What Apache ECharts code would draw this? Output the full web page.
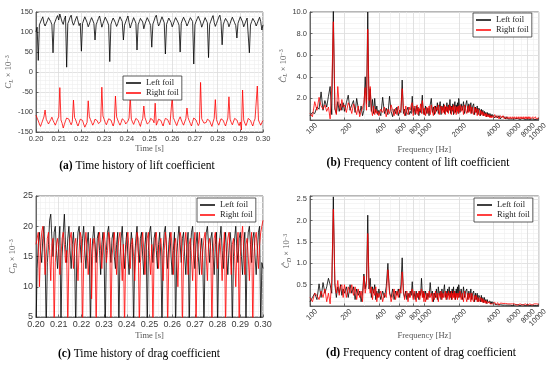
<!DOCTYPE html>
<html><head><meta charset="utf-8">
<script src="https://cdn.jsdelivr.net/npm/echarts@6/dist/echarts.min.js"></script>
<style>html,body{margin:0;padding:0;background:#fff}#c{width:550px;height:368px}</style>
</head><body><div id="c"></div><script>
// ---- time histories: samples every DT seconds starting at T0 ----
const T0 = 0.2, DT = 0.0005;
const liftLeft = [
100,112,29,118,125,132,138,122,115,120,128,136,140,126,118,48,120,127,135,141,
130,145,148,125,119,132,140,12,121,128,137,142,125,117,124,133,139,128,116,122,
52,121,130,138,143,124,113,120,129,136,141,122,80,118,126,134,140,127,112,121,
129,137,141,125,117,26,119,128,135,140,123,114,121,130,138,142,126,80,117,125,
133,140,124,110,119,127,136,141,122,55,118,126,134,139,125,108,120,128,136,141,
124,116,62,120,128,137,142,126,115,121,130,138,140,123,45,119,127,135,139,124,
113,120,129,136,141,125,117,50,122,130,137,140,124,115,121,129,136,141,126,20,
118,126,133,139,143,125,112,120,128,136,140,123,36,119,127,135,141,124,114,121,
129,137,142,126,68,118,127,134,139,124,113,121,130,137,141,123,116,85,122,130,
138,141,125,113,120,128,135,140,48,118,126,134,139,124,115,122,130,137,126,105,
118];
const liftRight = [
-108,-115,-122,-130,-136,-128,-120,-112,-95,-118,-124,-130,-125,-119,-113,-121,-127,-133,-126,-118,
-112,-39,-120,-128,-140,-131,-122,-115,-110,-118,-126,-132,-124,-70,-114,-120,-129,-135,-127,-118,
-113,-121,-130,-138,-142,-126,-72,-112,-119,-126,-133,-127,-118,-114,-122,-129,-134,-124,-38,-110,
-118,-126,-132,-128,-117,-113,-120,-128,-135,-125,-60,-112,-120,-127,-133,-126,-117,-115,-122,-130,
-134,-123,-115,-62,-118,-125,-131,-127,-116,-113,-121,-129,-136,-124,-117,-85,-114,-122,-130,-135,
-125,-116,-112,-120,-127,-78,-133,-126,-118,-114,-121,-129,-135,-124,-116,-112,-119,-126,-132,-127,
-62,-114,-121,-128,-134,-125,-118,-112,-120,-127,-133,-128,-117,-90,-114,-122,-129,-135,-124,-115,
-113,-120,-127,-134,-128,-26,-117,-121,-128,-133,-126,-118,-114,-122,-130,-136,-125,-116,-69,-119,
-127,-133,-128,-117,-113,-121,-129,-135,-125,-115,-62,-118,-126,-132,-127,-116,-112,-120,-128,-134,
-125,-145,-45,-120,-128,-134,-126,-116,-113,-121,-129,-135,-124,-117,-114,-35,-120,-127,-133,-126,
-121];
const dragLeft = [
3,13,17,19,16,14,18,20,15,3,14,17,21,22,18,15,19,20,16,13,
17,20,3,15,19,22,17,14,18,20,16,13,17,19,15,3,16,19,20,17,
14,18,20,16,13,17,19,15,3,15,18,20,17,14,18,19,16,12,17,19,
15,3,16,19,20,17,14,18,19,15,13,17,19,3,15,18,20,16,13,17,
19,15,12,16,19,17,3,15,18,20,16,14,18,19,15,12,17,19,3,16,
19,20,17,14,18,19,16,13,17,19,15,3,16,19,20,16,13,17,19,15,
12,16,19,3,15,18,20,17,14,18,19,15,12,17,19,3,16,19,20,16,
13,17,19,15,12,16,18,14,3,16,19,20,17,14,18,19,15,12,17,19,
3,15,18,20,16,13,17,19,15,12,16,19,17,3,15,18,20,16,14,18,
19,15,12,17,19,3,16,19,20,17,14,18,19,15,12,16,19,20,3,14,
13];
const dragRight = [
17,18,19,10,16,19,20,17,12,15,18,19,16,11,17,18,3,14,17,18,
16,12,15,18,19,17,14,16,3,15,18,19,16,13,17,18,15,11,16,19,
18,3,14,17,19,16,12,15,18,8,16,18,17,3,15,18,19,16,13,17,
19,17,14,16,19,18,3,15,17,19,16,12,16,18,19,15,11,17,3,15,
18,19,16,13,17,18,15,11,16,19,18,3,14,17,19,16,12,16,18,19,
15,12,17,3,15,18,19,16,13,17,18,15,11,16,19,17,3,14,18,19,
16,12,17,18,15,10,16,19,18,3,15,17,19,16,12,17,18,15,11,16,
19,3,14,17,19,16,12,16,18,19,15,11,17,18,16,3,15,18,19,16,
13,17,18,15,11,16,19,3,15,18,19,16,12,17,18,15,10,16,19,3,
15,18,20,16,12,17,18,15,11,16,19,3,15,18,19,16,13,17,19,20,
21];

// ---- spectra ----
const freqHz = [
100,105,110,115,120,125,130,135,140,145,150,155,160,165,170,175,180,185,190,195,
200,208,216,224,232,240,248,256,264,272,280,288,296,304,312,320,328,336,344,352,360,368,376,384,392,
400,416,432,448,464,480,496,512,528,544,560,576,592,608,624,640,656,672,688,704,720,736,752,768,784,800,816,832,848,864,880,896,912,928,944,960,976,992,
1000,1025,1050,1075,1100,1125,1150,1175,1200,1225,1250,1275,1300,1325,1350,1375,1400,1425,1450,1475,1500,1525,1550,1575,1600,1625,1650,1675,1700,1725,1750,1775,1800,1825,1850,1875,1900,1925,1950,1975,
2000,2050,2100,2150,2200,2250,2300,2350,2400,2450,2500,2550,2600,2650,2700,2750,2800,2850,2900,2950,3000,3050,3100,3150,3200,3250,3300,3350,3400,3450,3500,3550,3600,3650,3700,3750,3800,3850,3900,3950,
4000,4125,4250,4375,4500,4625,4750,4875,5000,5125,5250,5375,5500,5625,5750,5875,6000,6125,6250,6375,6500,6625,6750,6875,7000,7125,7250,7375,7500,7625,7750,7875,8000,8125,8250,8375,8500,8625,8750,8875,9000,9125,9250,9375,9500,9625,9750,9875,10000];
const liftSpecLeft = [
0.4,0.7,0.6,1.2,1.0,2.6,0.9,1.8,1.2,2.2,3.1,0.5,10.2,1.0,0.6,1.7,0.8,1.5,0.9,1.6,
0.8,1.6,2.3,0.9,1.4,1.8,0.7,2.0,1.1,0.6,1.3,0.4,0.9,4.0,1.5,10.0,1.2,2.9,0.8,1.9,0.6,2.0,0.7,1.3,0.5,
0.9,0.4,2.1,0.6,1.1,0.5,2.2,0.8,0.3,1.0,0.6,1.2,0.4,0.9,0.7,3.7,0.6,1.0,0.4,0.9,1.2,0.5,0.8,0.6,2.2,0.7,1.1,0.5,1.3,0.8,1.2,0.4,1.0,0.7,1.3,2.3,0.6,1.0,
0.5,1.3,0.6,1.1,0.4,1.4,2.0,0.7,1.2,0.5,1.3,0.8,1.6,0.6,1.2,1.7,0.5,1.3,0.9,1.5,0.6,1.2,0.8,1.6,0.7,1.4,0.9,1.9,0.6,1.3,0.8,1.5,0.5,1.2,1.7,0.7,1.4,0.9,1.6,0.6,
2.0,0.7,1.5,0.9,1.7,0.6,1.4,1.8,0.7,1.5,0.8,1.6,0.6,1.3,1.5,0.5,1.2,0.7,1.3,0.5,1.1,0.9,0.4,1.0,0.6,0.9,0.4,0.8,0.5,0.7,0.3,0.7,0.4,0.6,0.3,0.6,0.3,0.5,0.3,0.5,
0.5,0.2,0.4,0.2,0.4,0.1,0.3,0.2,0.3,0.1,0.3,0.1,0.2,0.1,0.2,0.1,0.2,0.1,0.2,0.05,0.15,0.1,0.15,0.05,0.15,0.1,0.15,0.05,0.1,0.05,0.1,0.05,0.1,0.05,0.1,0.05,0.1,0.05,0.1,0.05,0.1,0.05,0.1,0.05,0.1,0.05,0.1,0.05,0.1];
const liftSpecRight = [
0.6,0.3,1.7,0.9,2.1,1.3,1.0,1.4,0.8,1.2,0.1,3.0,9.1,1.2,0.5,3.1,1.4,0.9,1.9,1.2,
1.4,0.7,1.6,1.2,0.6,1.5,1.1,0.5,1.3,0.3,0.8,1.1,1.6,3.0,0.9,8.4,1.8,3.1,1.0,0.4,1.3,0.5,1.0,0.6,0.8,
0.4,1.0,0.7,1.2,0.3,1.0,0.6,1.4,0.9,0.4,1.1,0.5,1.3,0.6,1.0,2.9,1.1,0.4,1.3,0.7,0.5,1.2,0.9,1.4,1.6,0.4,1.3,0.9,0.6,1.4,0.5,1.1,0.8,1.5,0.6,1.8,1.2,0.5,
1.1,0.4,1.2,0.6,1.3,0.5,1.4,0.8,0.4,1.3,0.6,1.2,0.9,1.4,0.5,1.1,1.3,0.6,1.2,0.7,1.4,0.5,1.3,0.8,1.2,0.6,1.4,0.9,1.3,0.5,1.2,0.9,1.4,0.6,1.1,1.3,0.5,1.2,0.8,1.3,
0.6,1.4,0.8,1.3,0.5,1.4,0.9,0.6,1.3,0.7,1.4,0.6,1.2,0.8,0.5,1.2,0.7,1.1,0.4,1.0,0.6,0.4,0.9,0.5,0.8,0.4,0.7,0.4,0.6,0.3,0.6,0.3,0.5,0.3,0.5,0.2,0.4,0.2,0.4,0.3,
0.2,0.5,0.2,0.4,0.1,0.4,0.2,0.4,0.1,0.3,0.1,0.3,0.1,0.3,0.1,0.3,0.1,0.3,0.1,0.3,0.1,0.3,0.1,0.3,0.1,0.3,0.1,0.3,0.1,0.3,0.1,0.3,0.1,0.3,0.1,0.3,0.1,0.25,0.1,0.3,0.1,0.25,0.1,0.3,0.1,0.25,0.1,0.25,0.2];
const dragSpecLeft = [
0.1,0.2,0.3,0.15,0.52,0.2,0.55,0.3,0.45,0.65,0.5,0.3,2.56,0.5,0.2,0.45,0.3,0.5,0.25,0.4,
0.3,0.45,0.2,0.5,0.3,0.45,0.15,0.4,0.25,0.35,0.1,0.3,0.75,0.4,0.6,2.13,0.4,0.65,0.2,0.45,0.3,0.5,0.15,0.35,0.2,
0.4,0.15,0.35,0.2,0.45,1.0,0.3,0.2,0.4,0.15,0.35,0.25,0.4,0.2,0.5,1.13,0.3,0.2,0.35,0.15,0.3,0.2,0.35,0.25,0.57,0.2,0.3,0.15,0.35,0.2,0.3,0.15,0.35,0.25,0.65,0.3,0.2,0.35,
0.2,0.35,0.15,0.3,0.2,0.55,0.25,0.35,0.1,0.3,0.2,0.4,0.15,0.45,0.25,0.35,0.15,0.4,0.2,0.35,0.5,0.2,0.35,0.15,0.4,0.25,0.45,0.2,0.35,0.15,0.4,0.25,0.45,0.2,0.35,0.15,0.4,0.25,0.45,0.2,
0.5,0.2,0.4,0.15,0.45,0.2,0.35,0.4,0.15,0.35,0.2,0.4,0.15,0.3,0.35,0.1,0.3,0.15,0.3,0.1,0.25,0.2,0.1,0.25,0.1,0.2,0.08,0.2,0.1,0.15,0.06,0.15,0.08,0.12,0.05,0.12,0.05,0.1,0.05,0.1,
0.1,0.04,0.08,0.03,0.07,0.03,0.06,0.02,0.05,0.02,0.05,0.02,0.04,0.02,0.04,0.01,0.04,0.02,0.03,0.01,0.03,0.01,0.03,0.01,0.03,0.01,0.03,0.01,0.02,0.01,0.02,0.01,0.02,0.01,0.02,0.01,0.02,0.01,0.02,0.01,0.02,0.01,0.02,0.01,0.02,0.01,0.02,0.01,0.02];
const dragSpecRight = [
0.2,0.1,0.3,0.25,0.15,0.35,0.2,0.4,0.1,0.3,0.05,0.6,2.27,0.55,0.3,0.6,0.25,0.45,0.5,0.2,
0.5,0.2,0.45,0.3,0.5,0.25,0.45,0.15,0.4,0.2,0.35,0.1,0.7,0.3,0.5,1.7,0.55,0.3,0.45,0.15,0.4,0.25,0.45,0.1,0.3,
0.2,0.35,0.1,0.3,0.2,0.85,0.35,0.1,0.25,0.4,0.15,0.35,0.2,0.4,0.3,0.8,0.4,0.15,0.3,0.35,0.1,0.3,0.2,0.35,0.4,0.15,0.35,0.25,0.1,0.3,0.2,0.35,0.15,0.3,0.4,0.2,0.35,0.1,
0.3,0.1,0.3,0.15,0.35,0.2,0.3,0.1,0.3,0.15,0.35,0.2,0.3,0.1,0.3,0.2,0.35,0.15,0.3,0.2,0.25,0.35,0.15,0.3,0.2,0.35,0.15,0.3,0.2,0.35,0.15,0.3,0.2,0.35,0.15,0.3,0.2,0.3,0.15,0.3,
0.2,0.35,0.15,0.3,0.1,0.35,0.2,0.1,0.3,0.15,0.3,0.1,0.3,0.15,0.1,0.25,0.15,0.25,0.1,0.2,0.1,0.08,0.2,0.1,0.18,0.08,0.15,0.08,0.13,0.06,0.12,0.06,0.1,0.05,0.1,0.05,0.08,0.04,0.08,0.05,
0.04,0.09,0.03,0.08,0.02,0.07,0.03,0.06,0.02,0.06,0.02,0.05,0.02,0.05,0.02,0.05,0.02,0.05,0.02,0.05,0.02,0.05,0.02,0.05,0.02,0.05,0.02,0.05,0.02,0.05,0.02,0.05,0.02,0.05,0.02,0.05,0.02,0.05,0.02,0.05,0.02,0.05,0.02,0.05,0.02,0.05,0.02,0.05,0.04];
const freqTickLabels = [100,200,400,600,800,1000,2000,4000,6000,8000,10000];
const freqMinorGrid = [100,200,300,400,500,600,700,800,900,1000,2000,3000,4000,5000,6000,7000,8000,9000,10000];
const legendNames = ['Left foil','Right foil'];
const captions = [
  ['(a)','Time history of lift coefficient'],
  ['(b)','Frequency content of lift coefficient'],
  ['(c)','Time history of drag coefficient'],
  ['(d)','Frequency content of drag coefficient']];

// ---- rendering ----
const SERIF = "'Liberation Serif','DejaVu Serif',serif";
const SANS = "'Liberation Sans',Arial,sans-serif";
const AXC = '#4a4a4a', MAJ = '#dcdcdc', MINC = '#eeeeee', TXT = '#3a3a3a';
const toTime = arr => arr.map((v, i) => [T0 + i * DT, v]);
const toLogF = arr => arr.map((v, i) => [Math.log10(freqHz[i]), v]);
const lg = arr => arr.map(f => Math.log10(f));

const grids = [
  {left: 36, top: 12, width: 227, height: 120},
  {left: 310, top: 12, width: 229, height: 108},
  {left: 36, top: 196, width: 227, height: 121},
  {left: 310, top: 196, width: 229, height: 110}
].map(g => Object.assign({show: true, borderColor: AXC, borderWidth: 0.8, backgroundColor: '#fff'}, g));

const nameRich = {
  i: {fontStyle: 'italic', fontFamily: SERIF, fontSize: 9, color: '#555'},
  s: {fontStyle: 'italic', fontFamily: SERIF, fontSize: 6, color: '#555', padding: [4, 0, 0, 0]},
  p: {fontFamily: SERIF, fontSize: 6, color: '#555', padding: [0, 0, 4, 0]},
  t: {fontFamily: SERIF, fontSize: 8.5, color: '#555'}
};
const axLine = {show: true, onZero: false, lineStyle: {color: AXC, width: 0.8}};
function timeX(g, fs) {
  return {type: 'value', gridIndex: g, position: 'bottom', min: 0.2, max: 0.3, interval: 0.01,
    axisLine: axLine,
    axisTick: {show: true, inside: true, length: 2.5, lineStyle: {color: AXC, width: 0.8}},
    axisLabel: {color: TXT, fontFamily: SANS, fontSize: fs, margin: 3, formatter: v => v.toFixed(2)},
    splitLine: {show: true, lineStyle: {color: MAJ, width: 0.8}},
    minorTick: {show: false, splitNumber: 5},
    minorSplitLine: {show: true, lineStyle: {color: MINC, width: 0.6}},
    name: 'Time [s]', nameLocation: 'middle', nameGap: fs + 5,
    nameTextStyle: {fontFamily: SERIF, fontSize: 8.5, color: '#555'}};
}
function freqMinorX(g) {
  return {type: 'value', gridIndex: g, position: 'top', min: 2, max: 4,
    axisLine: {show: false, onZero: false}, axisLabel: {show: false},
    axisTick: {show: false, customValues: lg(freqMinorGrid)},
    splitLine: {show: true, lineStyle: {color: MINC, width: 0.6}}};
}
function freqX(g) {
  return {type: 'value', gridIndex: g, position: 'bottom', min: 2, max: 4,
    axisLine: axLine,
    axisTick: {show: true, inside: true, length: 2.5, lineStyle: {color: AXC, width: 0.8}, customValues: lg(freqTickLabels)},
    axisLabel: {color: TXT, fontFamily: SANS, fontSize: 7.5, margin: 5, rotate: 45, hideOverlap: false, interval: 0,
      align: 'right', verticalAlign: 'top', padding: [0, -5, 0, 0],
      customValues: lg(freqTickLabels), formatter: v => String(Math.round(Math.pow(10, v)))},
    splitLine: {show: true, lineStyle: {color: MAJ, width: 0.8}},
    name: 'Frequency [Hz]', nameLocation: 'middle', nameGap: 25,
    nameTextStyle: {fontFamily: SERIF, fontSize: 8.5, color: '#555'}};
}
function yAx(g, o) {
  return Object.assign({type: 'value', gridIndex: g, position: 'left',
    axisLine: axLine,
    axisTick: {show: true, inside: true, length: 2.5, lineStyle: {color: AXC, width: 0.8}},
    splitLine: {show: true, lineStyle: {color: MAJ, width: 0.8}},
    minorTick: {show: false, splitNumber: 5},
    minorSplitLine: {show: true, lineStyle: {color: MINC, width: 0.6}},
    nameLocation: 'middle', nameTextStyle: {rich: nameRich, fontFamily: SERIF, fontSize: 8.5, color: '#555'}}, o);
}
const xAxis = [timeX(0, 7.5), freqMinorX(1), freqX(1), timeX(2, 9), freqMinorX(3), freqX(3)];
const yAxis = [
  yAx(0, {min: -150, max: 150, interval: 50, name: '{i|C}{s|L}{t| × 10}{p|−3}', nameGap: 18,
    axisLabel: {color: TXT, fontFamily: SANS, fontSize: 7.5, margin: 3}}),
  yAx(1, {min: 0, max: 10, interval: 2, name: '{i|Ĉ}{s|L}{t| × 10}{p|−3}', nameGap: 18,
    minorTick: {show: false, splitNumber: 4},
    axisLabel: {color: TXT, fontFamily: SANS, fontSize: 7.5, margin: 3, formatter: v => v === 0 ? '' : v.toFixed(1)}}),
  yAx(2, {min: 5, max: 25, interval: 5, name: '{i|C}{s|D}{t| × 10}{p|−3}', nameGap: 18,
    axisLabel: {color: TXT, fontFamily: SANS, fontSize: 9, margin: 3}}),
  yAx(3, {min: 0, max: 2.58, interval: 0.5, name: '{i|Ĉ}{s|D}{t| × 10}{p|−3}', nameGap: 18,
    axisLabel: {color: TXT, fontFamily: SANS, fontSize: 7.5, margin: 3,
      formatter: v => (v > 0 && Math.abs(v * 2 - Math.round(v * 2)) < 1e-6) ? v.toFixed(1) : ''}})
];
function ln(name, color, xi, yi, data) {
  return {type: 'line', name, xAxisIndex: xi, yAxisIndex: yi, data, showSymbol: false, symbol: 'none',
    clip: true, animation: false, silent: true,
    lineStyle: {color, width: 0.8}, itemStyle: {color}, z: 3};
}
const series = [
  ln('Left foil', '#000', 0, 0, toTime(liftLeft)),
  ln('Right foil', '#ff0000', 0, 0, toTime(liftRight)),
  ln('Left foil', '#000', 2, 1, toLogF(liftSpecLeft)),
  ln('Right foil', '#ff0000', 2, 1, toLogF(liftSpecRight)),
  ln('Left foil', '#000', 3, 2, toTime(dragLeft)),
  ln('Right foil', '#ff0000', 3, 2, toTime(dragRight)),
  ln('Left foil', '#000', 5, 3, toLogF(dragSpecLeft)),
  ln('Right foil', '#ff0000', 5, 3, toLogF(dragSpecRight))
];
function lgd(left, top) {
  return {left, top, orient: 'vertical', data: legendNames, icon: 'rect', itemWidth: 15, itemHeight: 1.5,
    itemGap: 0, itemTextGap: 4, selectedMode: false, backgroundColor: '#fff', borderColor: '#333', borderWidth: 0.8,
    padding: [2, 3, 2, 3], textStyle: {fontFamily: SERIF, fontSize: 8.5, color: '#222', lineHeight: 10}};
}
const capPos = [[137, 166], [418, 163], [139, 354], [421, 353]];
const graphic = captions.map((c, i) => ({
  type: 'text', x: capPos[i][0], y: capPos[i][1], silent: true,
  style: {text: '{b|' + c[0] + '} ' + c[1], fontFamily: SERIF, fontSize: 11.5, fill: '#000',
    align: 'center', verticalAlign: 'middle', textAlign: 'center', textVerticalAlign: 'middle',
    rich: {b: {fontWeight: 'bold', fontFamily: SERIF, fontSize: 11.5, fill: '#000', color: '#000'}}}
}));
const chart = echarts.init(document.getElementById('c'), null, {renderer: 'canvas'});
chart.setOption({
  animation: false, backgroundColor: '#fff',
  grid: grids, xAxis, yAxis, series,
  legend: [lgd(123, 76), lgd(473, 13), lgd(197, 198), lgd(474, 198)],
  graphic
});
</script></body></html>
